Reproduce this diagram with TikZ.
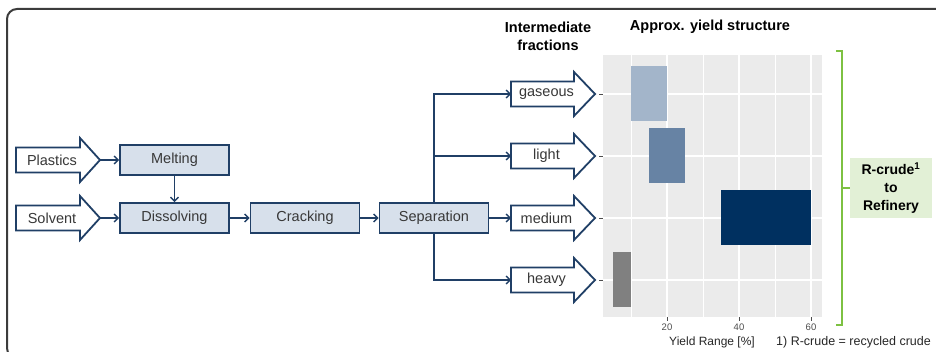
\documentclass[tikz,border=0pt]{standalone}
\usepackage{fontspec}
\setmainfont{Liberation Sans}
\usetikzlibrary{arrows.meta}
\definecolor{navy}{HTML}{203F66}
\definecolor{boxfill}{HTML}{D7E0EB}
\definecolor{txt}{HTML}{383838}
\definecolor{panel}{HTML}{EBEBEB}
\definecolor{gasc}{HTML}{A3B5CA}
\definecolor{lightc}{HTML}{6783A4}
\definecolor{medc}{HTML}{003060}
\definecolor{heavyc}{HTML}{808080}
\definecolor{grn}{HTML}{7DC142}
\definecolor{grnfill}{HTML}{E2F0D6}
\definecolor{framec}{HTML}{3C3C3C}
\definecolor{axtxt}{HTML}{4D4D4D}

\tikzset{
  procbox/.style={draw=navy, line width=1.8pt, fill=boxfill, minimum width=109pt,
    minimum height=30pt, inner sep=0pt, text=txt, font=\fontsize{14.5}{16}\selectfont},
  conn/.style={draw=navy, line width=1.4pt, -{Straight Barb[length=4pt,width=8pt]}},
  fatshape/.style={draw=navy, line width=1.8pt, fill=white, line join=miter},
  ftext/.style={text=txt, font=\fontsize{14.5}{16}\selectfont, inner sep=0pt},
  header/.style={font=\bfseries\fontsize{14.5}{18}\selectfont, align=center, text=black, inner sep=0pt},
  majgrid/.style={draw=white, line width=1.1pt},
  mingrid/.style={draw=white, line width=0.5pt},
  axtick/.style={draw=axtxt, line width=0.8pt},
  ticklab/.style={text=axtxt, font=\fontsize{9.5}{10}\selectfont, inner sep=0pt},
}

% name, body left x, head start x, tip x, centre y, text
\newcommand\fatarrow[6]{%
  \draw[fatshape] (#2,#5-12.5) -- (#3,#5-12.5) -- (#3,#5-22) -- (#4,#5)
     -- (#3,#5+22) -- (#3,#5+12.5) -- (#2,#5+12.5) -- cycle;
  \node[ftext] (#1) at ({(#2+#3)/2+4},#5) {#6};
  \coordinate (#1-tip) at (#4,#5);
  \coordinate (#1-in) at (#2,#5);
}

\begin{document}
\begin{tikzpicture}[x=1pt,y=-1pt]
\useasboundingbox (0,0) rectangle (936,352);
\clip (0,0) rectangle (936,352);

% outer frame
\draw[framec, line width=2pt, rounded corners=10pt] (7,9) rectangle (952,358);

% process boxes
\node[procbox] (melt) at (174.5,160) {Melting};
\node[procbox] (diss) at (174.5,218) {Dissolving};
\node[procbox] (crack) at (305,218) {Cracking};
\node[procbox] (sep) at (434,218) {Separation};

% input arrows
\fatarrow{pla}{16}{80}{100}{160}{Plastics}
\fatarrow{sol}{16}{80}{100}{218}{Solvent}

% fraction arrows
\fatarrow{gas}{511}{574}{595}{94}{gaseous}
\fatarrow{lig}{511}{574}{595}{156}{light}
\fatarrow{med}{511}{574}{595}{218}{medium}
\fatarrow{hea}{511}{574}{595}{280}{heavy}

% connectors
\draw[conn] (pla-tip) -- (melt.west);
\draw[conn] (sol-tip) -- (diss.west);
\draw[conn] (melt.south) -- (diss.north);
\draw[conn] (diss.east) -- (crack.west);
\draw[conn] (crack.east) -- (sep.west);
\draw[conn] (sep.north) |- (gas-in);
\draw[conn] (sep.north) |- (lig-in);
\draw[conn] (sep.east) -- (med-in);
\draw[conn] (sep.south) |- (hea-in);

% headers
\node[header] (hfrac) at (548,36) {Intermediate\\fractions};
\node[header] (hyield) at (710,27) {Approx. yield structure};

% chart panel
\fill[panel] (603,55) rectangle (822,317);
\foreach \x in {631,703,775} \draw[mingrid] (\x,55) -- (\x,317);
\foreach \x in {667,739,811} \draw[majgrid] (\x,55) -- (\x,317);
\foreach \y in {94,156,218,280} \draw[majgrid] (603,\y) -- (822,\y);

% bars
\fill[gasc] (631,66.5) rectangle (667,121.5);
\fill[lightc] (649,128.5) rectangle (685,183.5);
\fill[medc] (721,190.5) rectangle (811,245.5);
\fill[heavyc] (613,252.5) rectangle (631,307.5);

% axis ticks
\foreach \y in {94,156,218,280} \draw[axtick] (599,\y) -- (602.5,\y);
\foreach \x/\l in {667/20,739/40,811/60} {
  \draw[axtick] (\x,317) -- (\x,320.5);
  \node[ticklab] at (\x,327.5) {\l};
}
\node[text=black!85, font=\fontsize{12}{13}\selectfont, inner sep=0pt] (xtitle) at (712,342) {Yield Range [\%]};

% green bracket
\draw[grn, line width=2.2pt] (836,51) -- (842,51) -- (842,325) -- (836,325);
\coordinate (brmid) at (842,188);
\node[fill=grnfill, minimum width=82pt, minimum height=60pt, inner sep=0pt, align=center,
      font=\bfseries\fontsize{14}{18}\selectfont] (rcrude) at (891,188)
      {R-crude\textsuperscript{1}\\to\\Refinery};
\draw[grn, line width=2.2pt] (brmid) -- (rcrude.west);

% footnote
\node[anchor=west, inner sep=0pt, text=black!85, font=\fontsize{12.5}{14}\selectfont] (foot) at (776,342) {1) R-crude = recycled crude};
\end{tikzpicture}
\end{document}
